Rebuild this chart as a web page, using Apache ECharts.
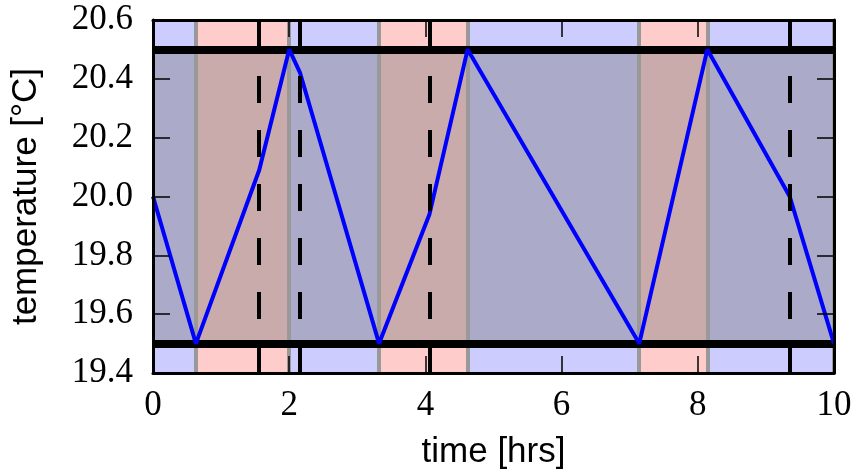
<!DOCTYPE html>
<html>
<head>
<meta charset="utf-8">
<script src="https://cdn.jsdelivr.net/npm/echarts@6/dist/echarts.min.js"></script>
<style>
html,body{margin:0;padding:0;background:#fff;}
#chart{width:856px;height:475px;}
</style>
</head>
<body>
<div id="chart"></div>
<script>
// time (hrs) and temperature (°C) of the blue trace
const timeHrs = [0, 0.63, 1.56, 2.0, 2.16, 3.32, 4.06, 4.62, 7.14, 8.14, 9.35, 10];
const tempC   = [20.0, 19.5, 20.09, 20.5, 20.42, 19.5, 19.94, 20.5, 19.5, 20.5, 20.0, 19.5];
// heater-off (blue) and heater-on (red) spans
const offSpans = [[0, 0.63], [2.0, 3.32], [4.62, 7.14], [8.14, 10]];
const onSpans  = [[0.63, 2.0], [3.32, 4.62], [7.14, 8.14]];
const spanEdges = [0.63, 2.0, 3.32, 4.62, 7.14, 8.14, 10];
// thermostat band limits
const bandLimits = [19.5, 20.5];
// event markers (dashed)
const eventTimes = [1.56, 2.16, 4.06, 9.35];
const xTicks = [0, 2, 4, 6, 8, 10];
const yTicks = [19.4, 19.6, 19.8, 20.0, 20.2, 20.4, 20.6];

const serif = '"Liberation Serif", "DejaVu Serif", serif';
const sans = '"Liberation Sans", Arial, sans-serif';

const chart = echarts.init(document.getElementById('chart'), null, {renderer: 'canvas'});

const tickStyle = {show: true, inside: true, length: 17, lineStyle: {color: '#000', width: 1.5}};
const lineAxis = {show: true, onZero: false, lineStyle: {color: '#000', width: 3}};

const spanAreas = [];
offSpans.forEach(s => spanAreas.push([{xAxis: s[0], itemStyle: {color: '#ccccff'}}, {xAxis: s[1]}]));
onSpans.forEach(s => spanAreas.push([{xAxis: s[0], itemStyle: {color: '#ffcccc'}}, {xAxis: s[1]}]));

const option = {
  animation: false,
  backgroundColor: '#fff',
  grid: {left: 153, right: 22, top: 20, bottom: 95, containLabel: false},
  xAxis: [
    {
      type: 'value', position: 'bottom', min: xTicks[0], max: xTicks[xTicks.length - 1], interval: 2, z: 10,
      axisLine: lineAxis, axisTick: tickStyle, splitLine: {show: false},
      axisLabel: {color: '#000', fontFamily: serif, fontSize: 35, margin: 15},
      name: 'time [hrs]', nameLocation: 'middle', nameGap: 62,
      nameTextStyle: {color: '#000', fontFamily: sans, fontSize: 35}
    },
    {
      type: 'value', position: 'top', min: xTicks[0], max: xTicks[xTicks.length - 1], interval: 2, z: 10,
      axisLine: lineAxis, axisTick: tickStyle, splitLine: {show: false}, axisLabel: {show: false}
    }
  ],
  yAxis: [
    {
      type: 'value', position: 'left', min: yTicks[0], max: yTicks[yTicks.length - 1], interval: 0.2, z: 10,
      axisLine: lineAxis, axisTick: tickStyle, splitLine: {show: false},
      axisLabel: {color: '#000', fontFamily: serif, fontSize: 35, margin: 20, formatter: v => v.toFixed(1)},
      name: 'temperature [°C]', nameLocation: 'middle', nameGap: 109,
      nameTextStyle: {color: '#000', fontFamily: sans, fontSize: 35}
    },
    {
      type: 'value', position: 'right', min: yTicks[0], max: yTicks[yTicks.length - 1], interval: 0.2, z: 10,
      axisLine: lineAxis, axisTick: tickStyle, splitLine: {show: false}, axisLabel: {show: false}
    }
  ],
  series: [
    {
      type: 'line', data: [], z: 1, silent: true,
      markArea: {silent: true, z: 1, data: spanAreas}
    },
    {
      type: 'line', data: [], z: 2, silent: true,
      markArea: {silent: true, z: 2, itemStyle: {color: 'rgba(123,123,123,0.41)'},
        data: [[{yAxis: bandLimits[0]}, {yAxis: bandLimits[1]}]]}
    },
    {
      type: 'line', data: [], z: 3, silent: true,
      markLine: {silent: true, z: 3, symbol: 'none', label: {show: false},
        lineStyle: {color: '#999999', width: 4, type: 'solid'},
        data: spanEdges.map(v => ({xAxis: v}))}
    },
    {
      type: 'line', data: [], z: 4, silent: true,
      markLine: {silent: true, z: 4, symbol: 'none', label: {show: false},
        lineStyle: {color: '#000', width: 8, type: 'solid'},
        data: bandLimits.map(v => ({yAxis: v}))}
    },
    {
      type: 'line', z: 5, silent: true, symbol: 'none',
      lineStyle: {color: '#0000ff', width: 4},
      data: timeHrs.map((t, i) => [t, tempC[i]])
    },
    {
      type: 'line', data: [], z: 6, silent: true,
      markLine: {silent: true, z: 6, symbol: 'none', label: {show: false},
        lineStyle: {color: '#000', width: 4, type: [27, 27]},
        data: eventTimes.map(v => ({xAxis: v}))}
    }
  ]
};
chart.setOption(option);
</script>
</body>
</html>
